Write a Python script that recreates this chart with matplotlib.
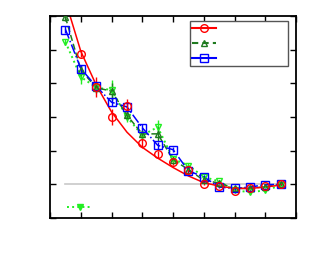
import numpy as np
import matplotlib
matplotlib.use("Agg")
import matplotlib.pyplot as plt
from matplotlib.lines import Line2D

# --- data ---
x_pts = [0.5, 1.0, 1.5, 2.0, 2.5, 3.0, 3.5, 4.0, 4.5, 5.0, 5.5, 6.0, 6.5, 7.0, 7.5]

red_x = x_pts[1:]
red_y = [3.88, 2.9, 2.0, 2.33, 1.22, 0.89, 0.65, 0.42, 0.02, -0.05, -0.2, -0.12, -0.06, 0.0]
red_err = [0.1, 0.3, 0.25, 0.2, 0.15, 0.1, 0.08, 0.06, 0.05, 0.04, 0.04, 0.04, 0.03, 0.03]
red_fit_x = [0.5, 1.0, 1.5, 2.0, 2.5, 3.0, 3.5, 4.0, 4.5, 5.0, 5.5, 6.0, 6.5, 7.0, 7.5]
red_fit_y = [5.45, 3.95, 2.95, 2.15, 1.55, 1.1, 0.78, 0.5, 0.25, 0.05, -0.05, -0.12, -0.12, -0.08, -0.02]

dkg_y = [4.96, 3.4, 2.87, 2.77, 2.05, 1.5, 1.5, 0.73, 0.44, 0.12, 0.04, -0.12, -0.12, -0.07, 0.0]
dkg_err = [0.1, 0.15, 0.15, 0.25, 0.15, 0.12, 0.2, 0.08, 0.06, 0.05, 0.04, 0.04, 0.04, 0.03, 0.03]

blue_y = [4.6, 3.44, 2.91, 2.44, 2.3, 1.68, 1.16, 1.03, 0.4, 0.22, -0.08, -0.12, -0.08, -0.01, 0.0]
blue_err = [0.1, 0.1, 0.12, 0.12, 0.15, 0.1, 0.1, 0.08, 0.06, 0.05, 0.04, 0.04, 0.03, 0.03, 0.03]

lg_y = [4.23, 3.19, 2.88, 2.8, 2.0, 1.46, 1.7, 0.76, 0.56, 0.22, 0.09, -0.18, -0.23, -0.18, -0.03]
lg_err = [0.1, 0.2, 0.15, 0.3, 0.15, 0.12, 0.2, 0.08, 0.06, 0.05, 0.05, 0.05, 0.05, 0.04, 0.03]

RED = "#ff0000"
DKG = "#1f7a1f"
BLUE = "#0000ff"
LG = "#22ee22"

fig = plt.figure(figsize=(3.13, 2.63), dpi=100)
ax = fig.add_axes([0.16, 0.171, 0.786, 0.768])

# zero reference line
ax.plot([0.5, 7.5], [0, 0], color="#c8c8c8", lw=1.2, zorder=1)

# light green dotted
ax.plot(x_pts, lg_y, color=LG, ls=":", lw=1.4, zorder=2)
ax.errorbar(x_pts, lg_y, yerr=lg_err, fmt="v", ms=5, mfc="none", mec=LG,
            ecolor=LG, elinewidth=1, capsize=0, zorder=3)

# dark green dashed
ax.plot(x_pts, dkg_y, color=DKG, ls=(0, (4, 2)), lw=1.1, zorder=2)
ax.errorbar(x_pts, dkg_y, yerr=dkg_err, fmt="^", ms=5, mfc="none", mec=DKG,
            ecolor=DKG, elinewidth=1, capsize=0, zorder=3)

# blue dash-dot
ax.plot(x_pts, blue_y, color=BLUE, ls="-.", lw=1.1, zorder=2)
ax.errorbar(x_pts, blue_y, yerr=blue_err, fmt="s", ms=5.5, mfc="none", mec=BLUE,
            ecolor=BLUE, elinewidth=1, capsize=0, zorder=3)

# red solid curve + points
ax.plot(red_fit_x, red_fit_y, color=RED, ls="-", lw=1.1, zorder=2)
ax.errorbar(red_x, red_y, yerr=red_err, fmt="o", ms=5.5, mfc="none", mec=RED,
            ecolor=RED, elinewidth=1, capsize=0, zorder=3)

ax.set_xlim(0, 8)
ax.set_ylim(-1, 5)
ax.set_xticks(range(0, 9))
ax.set_yticks(range(-1, 6))
ax.tick_params(direction="in", length=4, width=1, top=True, right=True,
               labelbottom=False, labelleft=False)
for sp in ax.spines.values():
    sp.set_linewidth(1.3)

h_red = Line2D([], [], color=RED, marker="o", mfc="none", ms=5.5)
h_dkg = Line2D([], [], color=DKG, ls=(0, (3, 2)), marker="^", mfc="none", ms=5)
h_blue = Line2D([], [], color=BLUE, marker="s", mfc="none", ms=5.5)
leg = ax.legend([h_red, h_dkg, h_blue], [" " * 20] * 3, loc="upper right",
                bbox_to_anchor=(0.968, 0.975), fancybox=False, framealpha=1,
                edgecolor="#555555", handlelength=2.4, fontsize=7,
                borderpad=0.25, labelspacing=0.5, borderaxespad=0.0)
leg.get_frame().set_linewidth(1.0)
ax.add_artist(leg)

h_lg = Line2D([], [], color=LG, ls=":", lw=1.4, marker="v", mfc=LG, ms=5)
ax.legend([h_lg], [""], loc="lower left", bbox_to_anchor=(0.03, -0.025),
          frameon=False, handlelength=2.2, fontsize=8)

fig.savefig("out.png", dpi=100)
